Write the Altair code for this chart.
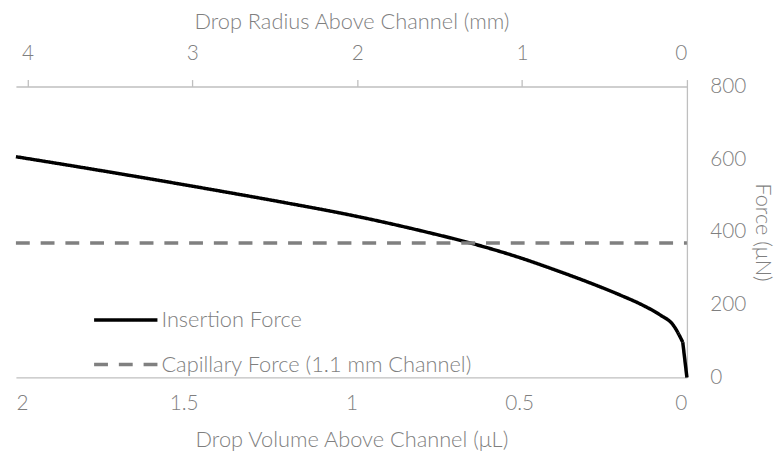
import altair as alt
import pandas as pd

# Insertion force curve (volume in uL, force in uN)
volume = [2.0, 1.8, 1.6, 1.4, 1.2, 1.0, 0.8, 0.6, 0.5, 0.4, 0.3, 0.2, 0.128, 0.08, 0.04, 0.0124]
force = [607.0, 577.0, 546.0, 514.0, 481.0, 446.0, 405.0, 358.0, 330.0, 298.0, 264.0, 227.0, 197.0, 172.0, 143.0, 97.0]
# final straight drop of the insertion force to zero
drop_volume = [0.0124, 0.0]
drop_force = [97.0, 0.0]

# Capillary force (constant)
cap_volume = [0.0, 2.0]
cap_force = [370.0, 370.0]

series_names = ["Insertion Force", "Capillary Force (1.1 mm Channel)"]

# Top axis (drop radius) extent
radius_extent = [0.0, 4.07]

vol_ticks = [0, 0.5, 1, 1.5, 2]
rad_ticks = [0, 1, 2, 3, 4]
force_ticks = [0, 200, 400, 600, 800]

df = pd.concat([
    pd.DataFrame({"vol": volume, "force": force, "series": series_names[0]}),
    pd.DataFrame({"vol": cap_volume, "force": cap_force, "series": series_names[1]}),
])
df_drop = pd.DataFrame({"vol": drop_volume, "force": drop_force})
df_top = pd.DataFrame({"radius": radius_extent})

GRAY = "#7f7f7f"
AXIS = "#bfbfbf"
FONT = "Lato"
LW = 3.5

x_bottom = alt.X("vol:Q",
                 scale=alt.Scale(domain=[0, 2], reverse=True, nice=False, zero=False),
                 axis=alt.Axis(title="Drop Volume Above Channel (μL)", values=vol_ticks, format="~g",
                               orient="bottom", ticks=False, grid=False, labelPadding=15,
                               titlePadding=17))
y_force = alt.Y("force:Q",
                scale=alt.Scale(domain=[0, 800], nice=False),
                axis=alt.Axis(title="Force (μN)", values=force_ticks, orient="right", ticks=False,
                              grid=False, labelPadding=23, titlePadding=5))

lines = alt.Chart(df).mark_line(strokeWidth=LW, interpolate="monotone").encode(
    x=x_bottom,
    y=y_force,
    color=alt.Color("series:N",
                    scale=alt.Scale(domain=series_names, range=["#000000", "#808080"]),
                    legend=alt.Legend(title=None, orient="none", legendX=77, legendY=202,
                                      symbolType="stroke", symbolSize=4096, symbolStrokeWidth=LW,
                                      labelOffset=2, rowPadding=-3, padding=0, labelLimit=500)),
    strokeDash=alt.StrokeDash("series:N",
                              scale=alt.Scale(domain=series_names, range=[[1, 0], [14, 11]]),
                              legend=None),
)

drop = alt.Chart(df_drop).mark_line(strokeWidth=LW, color="#000000").encode(
    x=alt.X("vol:Q"),
    y=alt.Y("force:Q"),
)

main = alt.layer(lines, drop)

top = alt.Chart(df_top).mark_point(opacity=0).encode(
    x=alt.X("radius:Q",
            scale=alt.Scale(domain=radius_extent, reverse=True, nice=False, zero=False),
            axis=alt.Axis(title="Drop Radius Above Channel (mm)", values=rad_ticks, format="~g",
                          orient="top", ticks=True, tickSize=7, tickColor=AXIS, tickWidth=1.3,
                          grid=False, labelPadding=16, titlePadding=10)),
    y=alt.value(0),
)

chart = alt.layer(main, top).resolve_scale(x="independent").properties(
    width=678, height=294,
    autosize="none",
    padding={"left": 8, "top": 77, "right": 89, "bottom": 75},
).configure_view(stroke=None).configure_axis(
    labelFont=FONT, labelFontSize=21, labelColor=GRAY, labelFontWeight=300,
    titleFont=FONT, titleFontSize=22, titleColor=GRAY, titleFontWeight=300,
    domainColor=AXIS, domainWidth=1.3,
).configure_legend(
    labelFont=FONT, labelFontSize=22, labelColor=GRAY, labelFontWeight=300,
)

chart.save("out.html", embed_options={"renderer": "svg", "actions": False})
